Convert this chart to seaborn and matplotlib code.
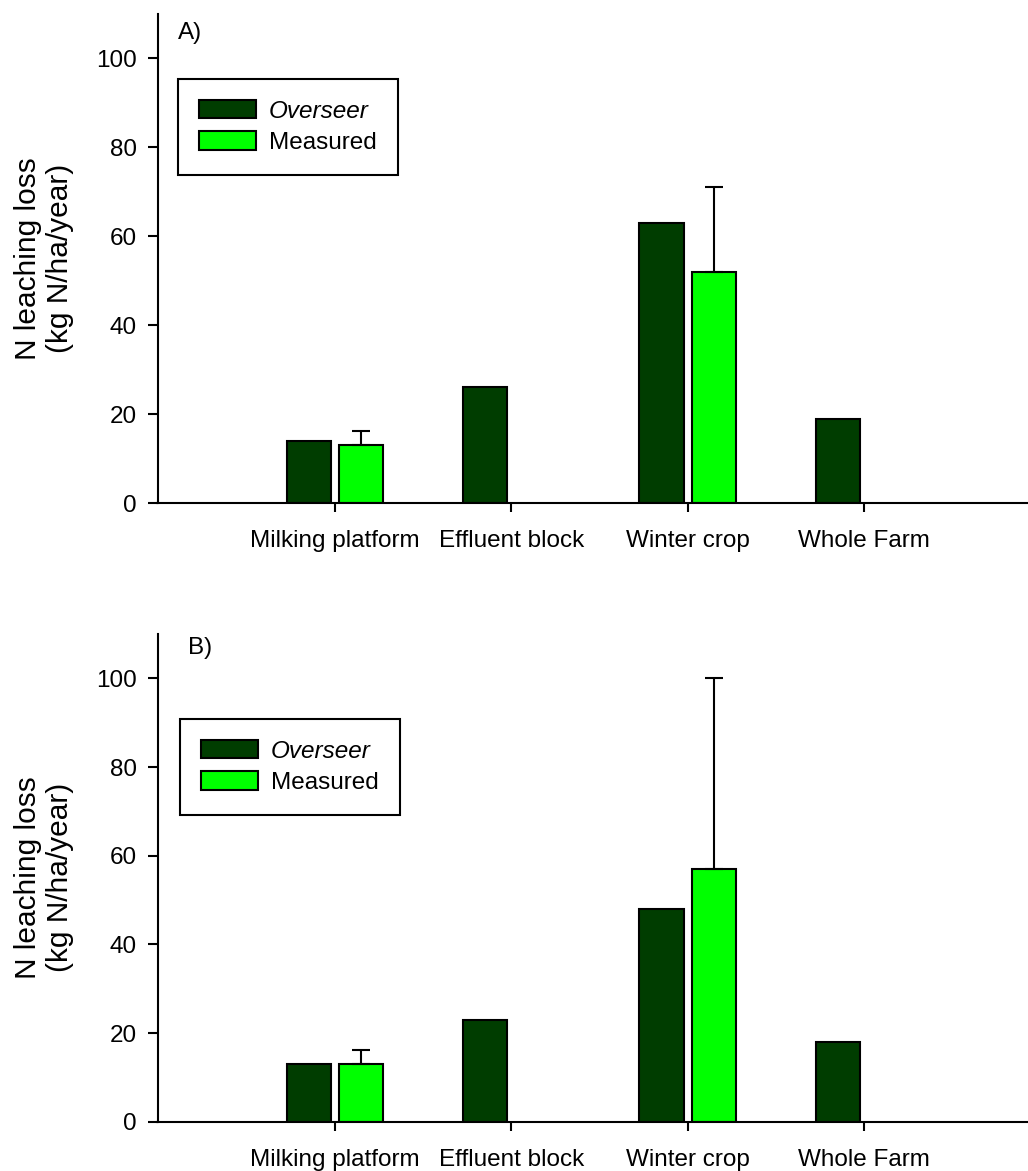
import numpy as np
import pandas as pd
import matplotlib
matplotlib.use("Agg")
import matplotlib.pyplot as plt
from matplotlib.patches import Patch
import seaborn as sns

# ---------------- data ----------------
categories = ["Milking platform", "Effluent block", "Winter crop", "Whole Farm"]
series = ["Overseer", "Measured"]

overseer_a = [14, 26, 63, 19]
measured_a = [13, np.nan, 52, np.nan]
measured_err_a = [3.2, np.nan, 19, np.nan]

overseer_b = [13, 23, 48, 18]
measured_b = [13, np.nan, 57, np.nan]
measured_err_b = [3.2, np.nan, 43, np.nan]

panel_labels = ["A)", "B)"]
yticks = [0, 20, 40, 60, 80, 100]
ylabel = "N leaching loss\n(kg N/ha/year)"

dark_green = "#003d00"
light_green = "#00ff00"

# ---------------- style ----------------
sns.set_style("ticks")
plt.rcParams["font.family"] = ["Liberation Sans", "DejaVu Sans"]
plt.rcParams["text.color"] = "black"
plt.rcParams["axes.labelcolor"] = "black"
plt.rcParams["xtick.color"] = "black"
plt.rcParams["ytick.color"] = "black"

LW = 1.5

W, H = 1028, 1171
fig = plt.figure(figsize=(W / 100, H / 100), dpi=100)

def fx(px):
    return px / W

def fy(py):
    return 1 - py / H

panels = [
    dict(over=overseer_a, meas=measured_a, err=measured_err_a, label=panel_labels[0],
         top=14, bottom=503, lab_xy=(178, 22.5), leg_xy=(178, 79)),
    dict(over=overseer_b, meas=measured_b, err=measured_err_b, label=panel_labels[1],
         top=634, bottom=1121.7, lab_xy=(188, 637), leg_xy=(180, 719)),
]

left_px = 157.5
for p in panels:
    ax = fig.add_axes([fx(left_px), fy(p["bottom"]), 1 - fx(left_px),
                       (p["bottom"] - p["top"]) / H])
    df = pd.DataFrame({
        "category": categories * 2,
        "series": [series[0]] * len(categories) + [series[1]] * len(categories),
        "value": list(p["over"]) + list(p["meas"]),
    }).dropna()
    sns.barplot(data=df, x="category", y="value", hue="series",
                order=categories, hue_order=series,
                palette=[dark_green, light_green], width=0.593, gap=0.155,
                edgecolor="black", linewidth=LW, errorbar=None,
                legend=False, ax=ax, saturation=1)

    # upper-only error bars on the Measured bars
    meas_container = ax.containers[1]
    for bar in meas_container:
        h = bar.get_height()
        if np.isnan(h):
            continue
        xc = bar.get_x() + bar.get_width() / 2
        idx = int(round(xc))
        e = p["err"][idx]
        if np.isnan(e):
            continue
        ax.errorbar([xc], [h], yerr=[[0], [e]], fmt="none", ecolor="black",
                    elinewidth=LW, capsize=6.5, capthick=LW, zorder=1)

    ax.set_xlim(-1.007, 3.93)
    ax.set_ylim(0, 110)
    ax.set_yticks(yticks)
    ax.set_xlabel("")
    ax.set_ylabel(ylabel, fontsize=21.5, color="black")
    ax.yaxis.set_label_coords(-0.096, 0.5)
    sns.despine(ax=ax)
    for s in ["left", "bottom"]:
        ax.spines[s].set_linewidth(LW)
        ax.spines[s].set_color("black")
    ax.tick_params(axis="y", direction="out", length=7, width=LW, pad=8,
                   labelsize=17.5, colors="black")
    ax.tick_params(axis="x", direction="out", length=6.5, width=LW, pad=13,
                   labelsize=17.5, colors="black")

    handles = [Patch(facecolor=dark_green, edgecolor="black", linewidth=LW),
               Patch(facecolor=light_green, edgecolor="black", linewidth=LW)]
    leg = ax.legend(handles, series, loc="upper left",
                    bbox_to_anchor=(fx(p["leg_xy"][0]), fy(p["leg_xy"][1])),
                    bbox_transform=fig.transFigure, borderaxespad=0,
                    fontsize=17.5, frameon=True, fancybox=False, shadow=False,
                    handlelength=2.35, handleheight=0.78, handletextpad=0.55,
                    labelspacing=0.36, borderpad=0.85)
    frame = leg.get_frame()
    frame.set_edgecolor("black")
    frame.set_linewidth(LW)
    frame.set_alpha(1)
    for t in leg.get_texts():
        t.set_color("black")
    leg.get_texts()[0].set_fontstyle("italic")

    fig.text(fx(p["lab_xy"][0]), fy(p["lab_xy"][1]), p["label"], fontsize=17.5,
             ha="left", va="top", color="black")

fig.savefig("out.png", dpi=100)
